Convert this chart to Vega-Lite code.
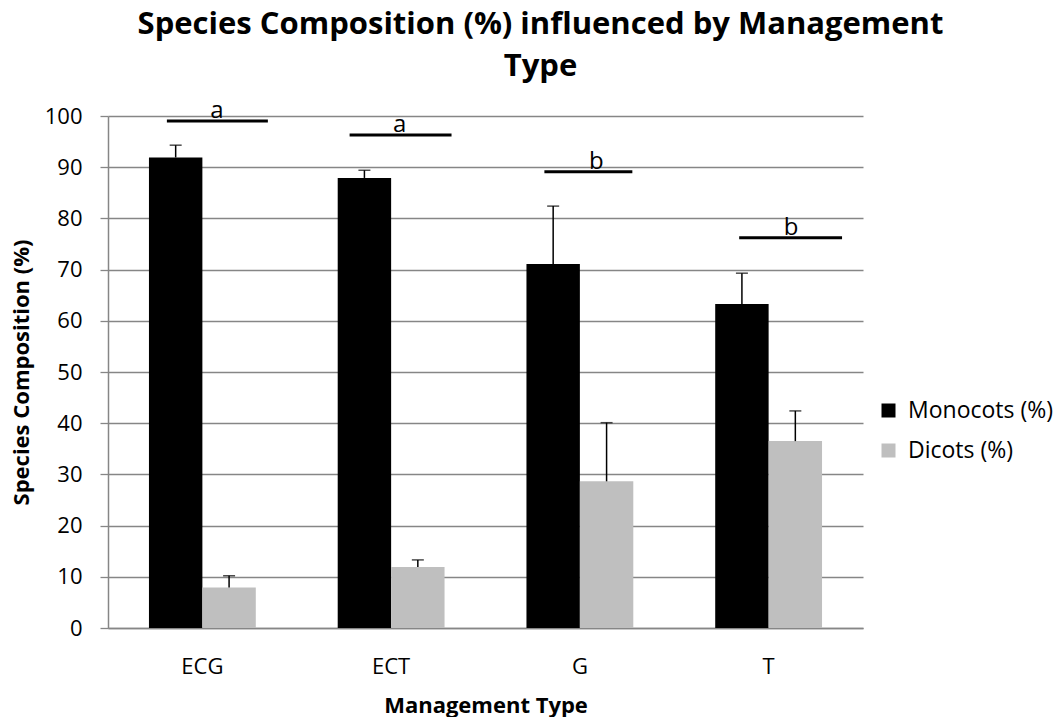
{
  "$schema": "https://vega.github.io/schema/vega-lite/v6.json",
  "width": 755,
  "height": 512,
  "autosize": "none",
  "padding": {"left": 108, "top": 116, "right": 192, "bottom": 89},
  "background": "white",
  "config": {
    "font": "Open Sans",
    "view": {"stroke": null},
    "axis": {"labelColor": "black", "titleColor": "black"}
  },
  "title": {
    "text": ["Species Composition (%) influenced by Management", "Type"],
    "fontSize": 31,
    "fontWeight": "bold",
    "font": "Open Sans",
    "color": "black",
    "anchor": "middle",
    "frame": "group",
    "dx": 55,
    "lineHeight": 42,
    "offset": 16
  },
  "datasets": {
    "bars": [
      {"type": "ECG", "group": "Monocots (%)", "value": 91.9, "upper": 94.3},
      {"type": "ECG", "group": "Dicots (%)", "value": 7.9, "upper": 10.2},
      {"type": "ECT", "group": "Monocots (%)", "value": 87.9, "upper": 89.4},
      {"type": "ECT", "group": "Dicots (%)", "value": 11.9, "upper": 13.3},
      {"type": "G", "group": "Monocots (%)", "value": 71.1, "upper": 82.4},
      {"type": "G", "group": "Dicots (%)", "value": 28.65, "upper": 40.1},
      {"type": "T", "group": "Monocots (%)", "value": 63.3, "upper": 69.3},
      {"type": "T", "group": "Dicots (%)", "value": 36.5, "upper": 42.4}
    ],
    "sig": [
      {"type": "ECG", "letter": "a", "from": 0.312, "to": 0.847, "mid": 0.577, "level": 99.0},
      {"type": "ECT", "letter": "a", "from": 1.28, "to": 1.82, "mid": 1.545, "level": 96.3},
      {"type": "G", "letter": "b", "from": 2.312, "to": 2.778, "mid": 2.587, "level": 89.1},
      {"type": "T", "letter": "b", "from": 3.344, "to": 3.889, "mid": 3.619, "level": 76.2}
    ]
  },
  "layer": [
    {
      "data": {"name": "bars"},
      "layer": [
        {
          "mark": {"type": "bar"},
          "encoding": {
            "x": {
              "field": "type", "type": "nominal", "sort": ["ECG", "ECT", "G", "T"],
              "scale": {"paddingInner": 0.434, "paddingOuter": 0.217},
              "axis": {
                "title": "Management Type", "titleFontSize": 22, "titleFontWeight": "bold",
                "titleY": 84, "titleBaseline": "alphabetic",
                "labelFontSize": 22, "labelAngle": 0, "labelPadding": 28,
                "ticks": false, "domainColor": "#868686", "domainWidth": 1.5
              }
            },
            "xOffset": {"field": "group", "type": "nominal", "sort": ["Monocots (%)", "Dicots (%)"], "scale": {"paddingInner": 0, "paddingOuter": 0}},
            "y": {
              "field": "value", "type": "quantitative",
              "scale": {"domain": [0, 100], "nice": false},
              "axis": {
                "title": "Species Composition (%)", "titleFontSize": 22, "titleFontWeight": "bold",
                "titleX": -87, "titleY": 256, "titleAngle": 270, "titleAlign": "center", "titleBaseline": "middle",
                "values": [0, 10, 20, 30, 40, 50, 60, 70, 80, 90, 100],
                "labelFontSize": 22, "labelPadding": 18, "tickSize": 8, "tickColor": "#868686", "tickWidth": 1.3,
                "domainColor": "#868686", "domainWidth": 1.5,
                "grid": true, "gridColor": "#868686", "gridWidth": 1.3
              }
            },
            "color": {
              "field": "group", "type": "nominal",
              "scale": {"domain": ["Monocots (%)", "Dicots (%)"], "range": ["#000000", "#BFBFBF"]},
              "legend": {
                "title": null, "orient": "none", "legendX": 769, "legendY": 283,
                "symbolType": "square", "symbolSize": 196, "symbolStrokeWidth": 0,
                "labelFontSize": 23, "labelColor": "black", "labelOffset": 8, "rowPadding": 16
              }
            }
          }
        },
        {
          "mark": {"type": "rule", "color": "black", "strokeWidth": 1.5},
          "encoding": {
            "x": {"field": "type", "type": "nominal", "sort": ["ECG", "ECT", "G", "T"]},
            "xOffset": {"field": "group", "type": "nominal", "sort": ["Monocots (%)", "Dicots (%)"]},
            "y": {"field": "value", "type": "quantitative"},
            "y2": {"field": "upper"}
          }
        },
        {
          "mark": {"type": "tick", "color": "black", "thickness": 1.5, "size": 12, "orient": "horizontal"},
          "encoding": {
            "x": {"field": "type", "type": "nominal", "sort": ["ECG", "ECT", "G", "T"]},
            "xOffset": {"field": "group", "type": "nominal", "sort": ["Monocots (%)", "Dicots (%)"]},
            "y": {"field": "upper", "type": "quantitative"}
          }
        }
      ]
    },
    {
      "data": {"name": "sig"},
      "layer": [
        {
          "mark": {"type": "rule", "color": "black", "strokeWidth": 3},
          "encoding": {
            "x": {"field": "from", "type": "quantitative", "scale": {"domain": [0, 4], "nice": false}, "axis": null},
            "x2": {"field": "to"},
            "y": {"field": "level", "type": "quantitative"}
          }
        },
        {
          "mark": {"type": "text", "fontSize": 24, "color": "black", "baseline": "alphabetic", "dy": -3},
          "encoding": {
            "x": {"field": "mid", "type": "quantitative", "scale": {"domain": [0, 4], "nice": false}, "axis": null},
            "y": {"field": "level", "type": "quantitative"},
            "text": {"field": "letter"}
          }
        }
      ]
    }
  ],
  "resolve": {"scale": {"x": "independent"}}
}
